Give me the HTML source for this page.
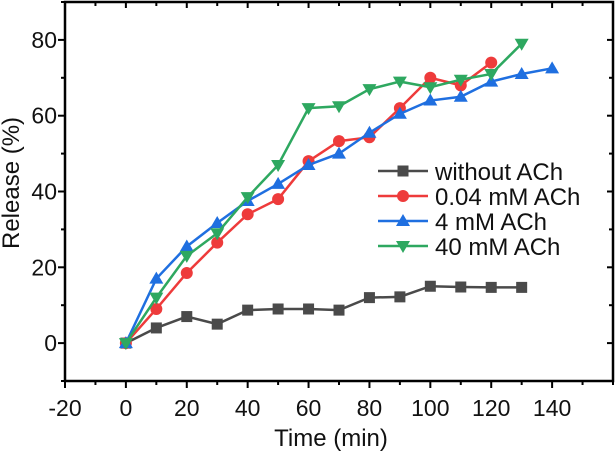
<!DOCTYPE html>
<html><head><meta charset="utf-8"><style>
body{margin:0;background:#fff;}
svg{display:block;font-family:"Liberation Sans",Arial,sans-serif;}
</style></head><body>
<svg id="chart" width="616" height="453"></svg>
<script>
const xTicks=[-20,0,20,40,60,80,100,120,140];
const yTicks=[0,20,40,60,80];
const tWithout=[0,10,20,30,40,50,60,70,80,90,100,110,120,130];
const vWithout=[0,4,7,5,8.7,9,9,8.7,12,12.2,15,14.8,14.7,14.7];
const tRed=[0,10,20,30,40,50,60,70,80,90,100,110,120];
const vRed=[0,9,18.5,26.5,34,38,48,53.3,54.3,62,70,68,74];
const tBlue=[0,10,20,30,40,50,60,70,80,90,100,110,120,130,140];
const vBlue=[0,17,25.5,31.7,37.5,42,47,50,55.5,60.5,64,65,69,71,72.5];
const tGreen=[0,10,20,30,40,50,60,70,80,90,100,110,120,130];
const vGreen=[0,12,23,29,38.5,47,62,62.5,67,69,67.5,69.5,71,79];
const seriesNames=["without ACh","0.04 mM ACh","4 mM ACh","40 mM ACh"];

const L=65,R=613,T=2,B=381,xmin=-20,xmax=160,ymin=-10,ymax=90;
const X=v=>L+(v-xmin)/(xmax-xmin)*(R-L);
const Y=v=>B-(v-ymin)/(ymax-ymin)*(B-T);
const svg=document.getElementById('chart');
const NS='http://www.w3.org/2000/svg';
function mk(tag,attrs,parent){const e=document.createElementNS(NS,tag);for(const k in attrs)e.setAttribute(k,attrs[k]);(parent||svg).appendChild(e);return e;}

const frame=mk('rect',{x:L,y:T,width:R-L,height:B-T,fill:'none',stroke:'#000','stroke-width':2.5});


for(let v=xmin;v<=xmax;v+=10){
  const major=xTicks.includes(v);
  const t=mk('line',{x1:X(v),x2:X(v),y1:B,y2:B+(major?7:4),stroke:'#000','stroke-width':2});
  
  
  const t2=mk('line',{x1:X(v),x2:X(v),y1:T,y2:T+(major?6:4),stroke:'#000','stroke-width':2});
  
  
}
xTicks.forEach(v=>{
  const t=mk('text',{x:X(v),y:416,'text-anchor':'middle','font-size':23,fill:'#111'});
  t.textContent=v;
  
  
});
for(let v=ymin;v<=ymax;v+=10){
  const major=yTicks.includes(v);
  const t=mk('line',{x1:L-(major?7:4),x2:L,y1:Y(v),y2:Y(v),stroke:'#000','stroke-width':2});
  
  
  const t2=mk('line',{x1:R-(major?6:4),x2:R,y1:Y(v),y2:Y(v),stroke:'#000','stroke-width':2});
  
  
}
yTicks.forEach(v=>{
  const t=mk('text',{x:57,y:Y(v)+8,'text-anchor':'end','font-size':23,fill:'#111'});
  t.textContent=v;
  
  
});
const xt=mk('text',{x:331,y:446,'text-anchor':'middle','font-size':24,fill:'#111'});
xt.textContent='Time (min)';


const yt=mk('text',{x:0,y:0,'text-anchor':'middle','font-size':24,fill:'#111',transform:'translate(19,183) rotate(-90)'});
yt.textContent='Release (%)';



function marker(shape,x,y,color,g){
  let m;
  if(shape==='square')m=mk('rect',{x:x-5.5,y:y-5.5,width:11,height:11,fill:color},g);
  else if(shape==='circle')m=mk('circle',{cx:x,cy:y,r:6,fill:color},g);
  else if(shape==='up')m=mk('polygon',{points:`${x},${y-7} ${x-7},${y+5} ${x+7},${y+5}`,fill:color},g);
  else m=mk('polygon',{points:`${x},${y+7} ${x-7},${y-5} ${x+7},${y-5}`,fill:color},g);
  return m;
}
const defs=[[tWithout,vWithout,'#4a4a4a','square'],[tRed,vRed,'#ee3b3b','circle'],[tBlue,vBlue,'#1f6fe0','up'],[tGreen,vGreen,'#2ea860','down']];
const keys=['without-ach','ach-0-04mm','ach-4mm','ach-40mm'];
defs.forEach((d,i)=>{
  const g=mk('g',{});
  
  
  const pts=d[0].map((t,j)=>X(t)+','+Y(d[1][j])).join(' ');
  const pl=mk('polyline',{points:pts,fill:'none',stroke:d[2],'stroke-width':2.5},g);
  
  
  d[0].forEach((t,j)=>{
    const m=marker(d[3],X(t),Y(d[1][j]),d[2],g);
    
    
  });
  const ly=171+i*25;
  const lg=mk('g',{},svg);
  
  
  mk('line',{x1:378,x2:428,y1:ly,y2:ly,stroke:d[2],'stroke-width':2.5},lg);
  marker(d[3],403,ly,d[2],lg);
  const tx=mk('text',{x:435,y:ly+9,'font-size':24,fill:'#111'},lg);
  tx.textContent=seriesNames[i];
});
</script>
</body></html>
